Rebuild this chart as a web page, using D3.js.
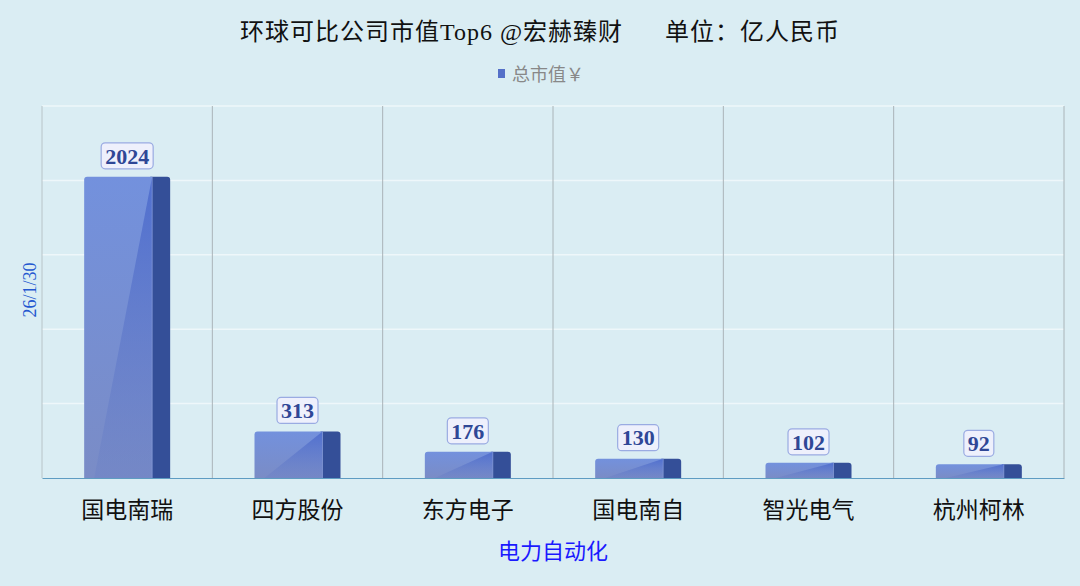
<!DOCTYPE html>
<html>
<head>
<meta charset="utf-8">
<script src="https://cdn.jsdelivr.net/npm/d3@7"></script>
<style>
  body { margin: 0; background: #daedf3; }
  text { font-family: "Liberation Serif", "Noto Sans CJK SC", serif; }
</style>
</head>
<body>
<div id="chart"></div>
<script>
// chart data
var categories = ["国电南瑞", "四方股份", "东方电子", "国电南自", "智光电气", "杭州柯林"];
var values = [2024, 313, 176, 130, 102, 92];
var yTicks = [0, 500, 1000, 1500, 2000, 2500];
var titleText = "环球可比公司市值Top6 @宏赫臻财      单位：亿人民币";
var legendText = "总市值￥";
var yTitle = "26/1/30";
var xTitle = "电力自动化";

var W = 1080, H = 586;
var margin = { top: 106, right: 16, bottom: 108, left: 42 },
    width = W - margin.left - margin.right,
    height = H - margin.top - margin.bottom;

var svg = d3.select("#chart")
    .append("svg")
    .attr("width", W)
    .attr("height", H);

var defs = svg.append("defs");
var grad = defs.append("linearGradient").attr("id", "frontGrad")
    .attr("x1", 0).attr("y1", 0).attr("x2", 0).attr("y2", 1);
grad.append("stop").attr("offset", "0%").attr("stop-color", "#7391dd");
grad.append("stop").attr("offset", "100%").attr("stop-color", "#7a8cc6");

var sheen = defs.append("linearGradient").attr("id", "sheenGrad")
    .attr("x1", 0).attr("y1", 0).attr("x2", 0).attr("y2", 1);
sheen.append("stop").attr("offset", "0%").attr("stop-color", "#4a69cc").attr("stop-opacity", 0.85);
sheen.append("stop").attr("offset", "100%").attr("stop-color", "#6a80c6").attr("stop-opacity", 0.35);

svg.append("rect").attr("width", W).attr("height", H).attr("fill", "#daedf3");

var g = svg.append("g")
    .attr("transform", "translate(" + margin.left + "," + margin.top + ")");

var x = d3.scaleBand()
    .domain(categories)
    .range([0, width]);

var y = d3.scaleLinear()
    .domain([0, 2500])
    .range([height, 0]);

// horizontal grid
g.append("g")
    .selectAll("line")
    .data(yTicks.slice(1))
    .enter()
    .append("line")
    .attr("x1", 0).attr("x2", width)
    .attr("y1", d => y(d)).attr("y2", d => y(d))
    .attr("stroke", "#eef7fa")
    .attr("stroke-width", 1.5);

// vertical separators
var bounds = categories.map(c => x(c)).concat([width]);
g.append("g")
    .selectAll("line")
    .data(bounds)
    .enter()
    .append("line")
    .attr("x1", d => d).attr("x2", d => d)
    .attr("y1", 0).attr("y2", height)
    .attr("stroke", (d, i) => i == 0 ? "#b8c4c8" : "#aab4b8")
    .attr("stroke-width", 1);

// x axis
var xAxis = g.append("g")
    .attr("transform", "translate(0," + height + ")")
    .call(d3.axisBottom(x).tickSize(0).tickPadding(24));
xAxis.select(".domain").attr("stroke", "#5e9cc2").attr("stroke-width", 1.2);
xAxis.selectAll("text")
    .style("font-size", "23px")
    .style("font-family", "'Noto Sans CJK SC', sans-serif")
    .attr("fill", "#111");

// bars
var bw = 86, side = 18, front = bw - side;
var bars = g.selectAll(".bar")
    .data(values)
    .enter()
    .append("g")
    .attr("class", "bar")
    .attr("transform", (d, i) => "translate(" + (x(categories[i]) + x.bandwidth() / 2 - bw / 2) + ",0)");

bars.append("path")
    .attr("fill", "#344f98")
    .attr("d", function (d) {
        var t = y(d), b = height, r = 3;
        return "M" + (front - 2) + "," + b + "V" + t + "H" + (bw - r) +
            "Q" + bw + "," + t + " " + bw + "," + (t + r) + "V" + b + "Z";
    });

bars.append("path")
    .attr("fill", "url(#frontGrad)")
    .attr("d", function (d) {
        var t = y(d), b = height, r = 3;
        return "M0," + b + "V" + (t + r) + "Q0," + t + " " + r + "," + t +
            "H" + front + "V" + b + "Z";
    });

bars.append("path")
    .attr("fill", "url(#sheenGrad)")
    .attr("d", function (d) {
        var t = y(d), b = height;
        return "M" + front + "," + t + "L" + front + "," + b + "L10," + b + "Z";
    });

bars.append("line")
    .attr("x1", front).attr("x2", front)
    .attr("y1", d => y(d)).attr("y2", height)
    .attr("stroke", "#8ea2dc").attr("stroke-width", 1).attr("opacity", 0.6);

// value labels
var labels = bars.append("g")
    .attr("transform", d => "translate(" + (front / 2 + 9) + "," + (y(d) - 21) + ")");
labels.append("text")
    .attr("text-anchor", "middle")
    .attr("dy", "0.35em")
    .style("font-size", "22px")
    .style("font-weight", "bold")
    .attr("fill", "#2f4796")
    .text(d => d)
    .each(function () {
        var bb = this.getBBox();
        d3.select(this.parentNode).insert("rect", "text")
            .attr("x", bb.x - 4).attr("y", -13)
            .attr("width", bb.width + 8).attr("height", 26)
            .attr("rx", 4)
            .attr("fill", "#eef0fc")
            .attr("stroke", "#9aabe2")
            .attr("stroke-width", 1.2);
    });

// title
svg.append("text")
    .attr("x", W / 2).attr("y", 40)
    .attr("text-anchor", "middle")
    .style("font-size", "24px")
    .style("letter-spacing", "1px")
    .attr("xml:space", "preserve")
    .attr("fill", "#111")
    .text(titleText);

// legend
svg.append("rect")
    .attr("x", 498).attr("y", 69).attr("width", 7).attr("height", 9)
    .attr("fill", "#5470c8");
svg.append("text")
    .attr("x", 512).attr("y", 81)
    .style("font-size", "18px")
    .attr("fill", "#888")
    .text(legendText);

// axis titles
svg.append("text")
    .attr("transform", "translate(36," + (margin.top + height / 2 - 2) + ") rotate(-90)")
    .attr("text-anchor", "middle")
    .style("font-size", "18px")
    .attr("fill", "#2458d0")
    .text(yTitle);

svg.append("text")
    .attr("x", margin.left + width / 2).attr("y", 559)
    .attr("text-anchor", "middle")
    .style("font-size", "22px")
    .style("font-family", "'Noto Sans CJK SC', sans-serif")
    .attr("fill", "#1a1aff")
    .text(xTitle);
</script>
</body>
</html>
